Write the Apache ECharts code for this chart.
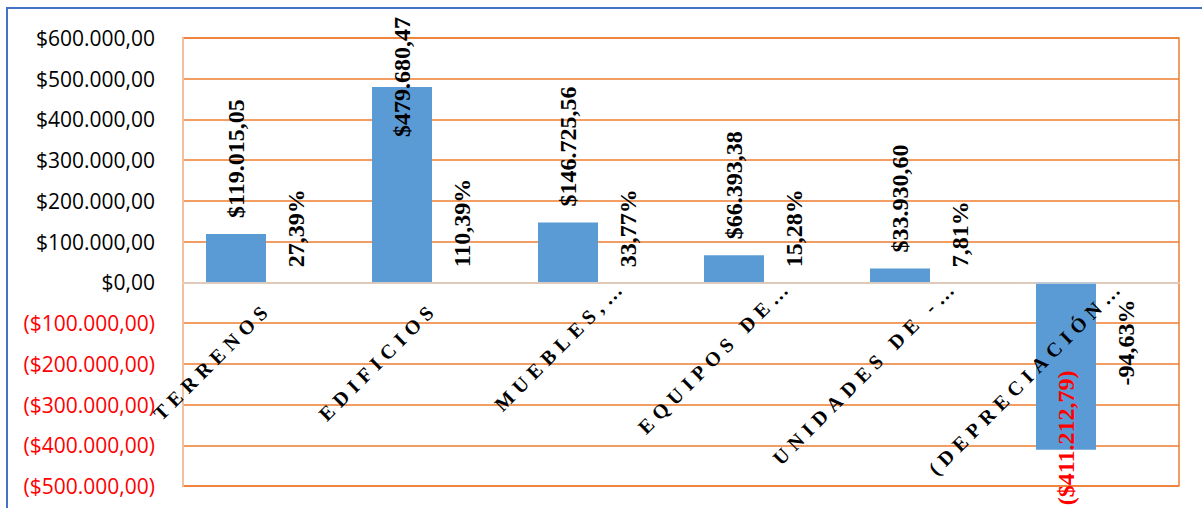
<!DOCTYPE html>
<html>
<head>
<meta charset="utf-8">
<script src="https://cdn.jsdelivr.net/npm/echarts@6/dist/echarts.min.js"></script>
<style>
    html, body { margin: 0; padding: 0; background: #fff; }
    #main { width: 1202px; height: 508px; }
    /* etiquetas de categoria con letras separadas */
    #main text[style*="20px"] { letter-spacing: 6px; }
</style>
</head>
<body>
<div id="main"></div>
<script>
var categories = ['TERRENOS', 'EDIFICIOS', 'MUEBLES,…', 'EQUIPOS DE…', 'UNIDADES DE -…', '(DEPRECIACIÓN…'];
var values = [119015.05, 479680.47, 146725.56, 66393.38, 33930.60, -411212.79];
var percents = [27.39, 110.39, 33.77, 15.28, 7.81, -94.63];
var yTicks = [-500000, -400000, -300000, -200000, -100000, 0, 100000, 200000, 300000, 400000, 500000, 600000];

function money(v) {
    var neg = v < 0;
    var parts = Math.abs(v).toFixed(2).split('.');
    var ent = parts[0].replace(/\B(?=(\d{3})+(?!\d))/g, '.');
    var s = '$' + ent + ',' + parts[1];
    return neg ? '(' + s + ')' : s;
}

function pct(v) {
    return v.toFixed(2).replace('.', ',') + '%';
}

var gridTop = 38, gridBottom = 22, chartH = 508;
var yMin = yTicks[0], yMax = yTicks[yTicks.length - 1];
// el eje de categorias va en la linea del cero
var zeroOffset = -(chartH - gridTop - gridBottom) * (0 - yMin) / (yMax - yMin);

var labelFont = {
    fontFamily: 'Liberation Serif',
    fontWeight: 'bold',
    fontSize: 24,
    color: '#000'
};

var valueData = values.map(function (v) {
    if (v < 0) {
        return { value: v, label: { position: 'insideBottom', distance: 12, align: 'center', color: '#FF0000' } };
    }
    if (v > 400000) {
        // no cabe arriba: va dentro de la barra
        return { value: v, label: { position: 'insideTop', distance: 50, align: 'left' } };
    }
    return v;
});

var pctData = percents.map(function (v) {
    if (v < 0) {
        return { value: v, label: { position: 'bottom', distance: 17, align: 'right' } };
    }
    return v;
});

var catData = categories.map(function (c) {
    if (c.indexOf('…') >= 0) {
        return { value: c, textStyle: { padding: [0, -35, 0, 0] } };
    }
    return c;
});

var option = {
    animation: false,
    grid: {
        left: 183,
        right: 23,
        top: gridTop,
        bottom: gridBottom,
        show: true,
        borderColor: '#ED7D31',
        borderWidth: 1.5,
        outerBoundsMode: 'none'
    },
    graphic: [
        {
            type: 'rect',
            silent: true,
            shape: { x: 7, y: 8, width: 1400, height: 700 },
            style: { fill: 'none', stroke: '#4472C4', lineWidth: 2 }
        }
    ],
    xAxis: {
        type: 'category',
        data: catData,
        z: 5,
        offset: zeroOffset,
        axisTick: { show: false },
        axisLine: { onZero: false, lineStyle: { color: '#D9D9D9', width: 1.5 } },
        axisLabel: {
            interval: 0,
            rotate: 45,
            margin: 25,
            padding: [0, -3, 0, 0],
            fontFamily: 'Liberation Serif',
            fontWeight: 'bold',
            fontSize: 20,
            color: '#000'
        }
    },
    yAxis: {
        type: 'value',
        z: 1,
        min: yMin,
        max: yMax,
        interval: yTicks[1] - yTicks[0],
        axisLine: { show: true, lineStyle: { color: '#F2CFB4', width: 1.5 } },
        axisTick: { show: false },
        splitLine: { lineStyle: { color: '#ED7D31', width: 1.5 } },
        axisLabel: {
            margin: 28,
            fontFamily: 'Open Sans',
            fontSize: 21,
            color: function (val) {
                return Number(val) < 0 ? '#FF0000' : '#000000';
            },
            formatter: function (val) {
                return money(val);
            }
        }
    },
    series: [
        {
            name: 'Valor',
            type: 'bar',
            barWidth: 60,
            barGap: '0%',
            itemStyle: { color: '#5B9BD5' },
            label: Object.assign({
                show: true,
                rotate: 90,
                position: 'top',
                distance: 16,
                align: 'left',
                verticalAlign: 'middle',
                formatter: function (p) { return money(p.value); }
            }, labelFont),
            data: valueData
        },
        {
            name: 'Porcentaje',
            type: 'bar',
            barWidth: 60,
            itemStyle: { color: 'rgba(0,0,0,0)' },
            label: Object.assign({
                show: true,
                rotate: 90,
                position: 'top',
                distance: 15,
                align: 'left',
                verticalAlign: 'middle',
                formatter: function (p) { return pct(p.value); }
            }, labelFont),
            data: pctData
        }
    ]
};

var chart = echarts.init(document.getElementById('main'), null, { renderer: 'svg' });
chart.setOption(option);
</script>
</body>
</html>
